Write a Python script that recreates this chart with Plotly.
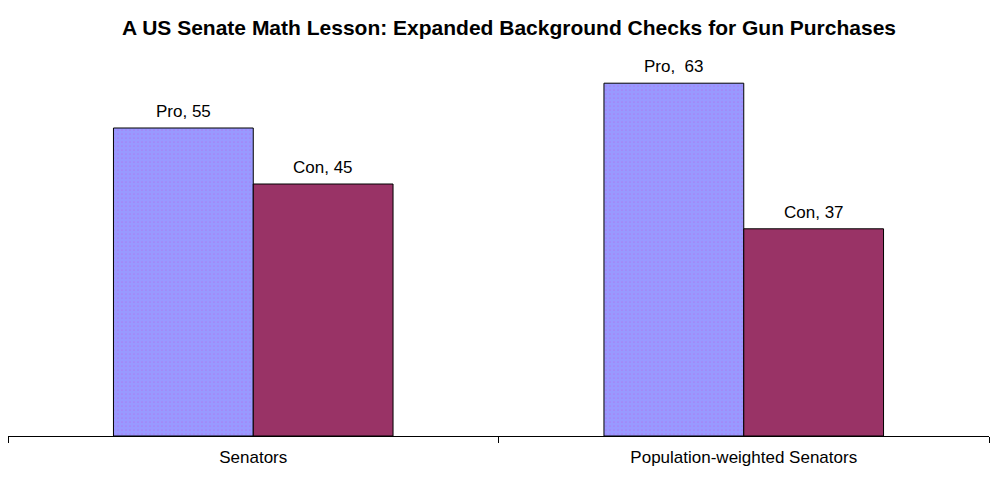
import plotly.graph_objects as go

# Data
groups = ["Senators", "Population-weighted Senators"]
pro = [55, 63]
con = [45, 37]
pro_labels = ["Pro, 55", "Pro,  63"]
con_labels = ["Con, 45", "Con, 37"]

fig = go.Figure()

fig.add_trace(go.Bar(
    x=groups, y=pro, name="Pro",
    marker=dict(color="#9999FF", line=dict(color="black", width=1),
                pattern=dict(shape=".", fgcolor="#B366E6", size=4, solidity=0.15)),
))
fig.add_trace(go.Bar(
    x=groups, y=con, name="Con",
    marker=dict(color="#993366", line=dict(color="black", width=1)),
))

# value labels above each bar (shifted half a bar width left/right)
half_bar = 70
for g, v, t in zip(groups, pro, pro_labels):
    fig.add_annotation(x=g, y=v, text=t, xshift=-half_bar, yshift=5,
                       yanchor="bottom", showarrow=False)
for g, v, t in zip(groups, con, con_labels):
    fig.add_annotation(x=g, y=v, text=t, xshift=half_bar, yshift=5,
                       yanchor="bottom", showarrow=False)

fig.update_layout(
    width=1002, height=480,
    barmode="group", bargap=0.43, bargroupgap=0,
    showlegend=False,
    plot_bgcolor="white", paper_bgcolor="white",
    margin=dict(l=0, r=21, t=36, b=52),
    font=dict(family="Arial", size=17, color="black"),
    title=dict(text="<b>A US Senate Math Lesson: Expanded Background Checks for Gun Purchases</b>",
               x=0.5, xanchor="center", y=0.96, yanchor="middle",
               font=dict(family="Arial", size=21, color="black")),
)

fig.update_xaxes(showline=True, linecolor="black", linewidth=1,
                 ticks="outside", tickson="boundaries", ticklen=6,
                 tickcolor="black", showgrid=False,
                 tickfont=dict(size=17), ticklabelstandoff=6)
fig.update_yaxes(range=[0, 70], visible=False, showgrid=False)

fig.write_html("out.html")
